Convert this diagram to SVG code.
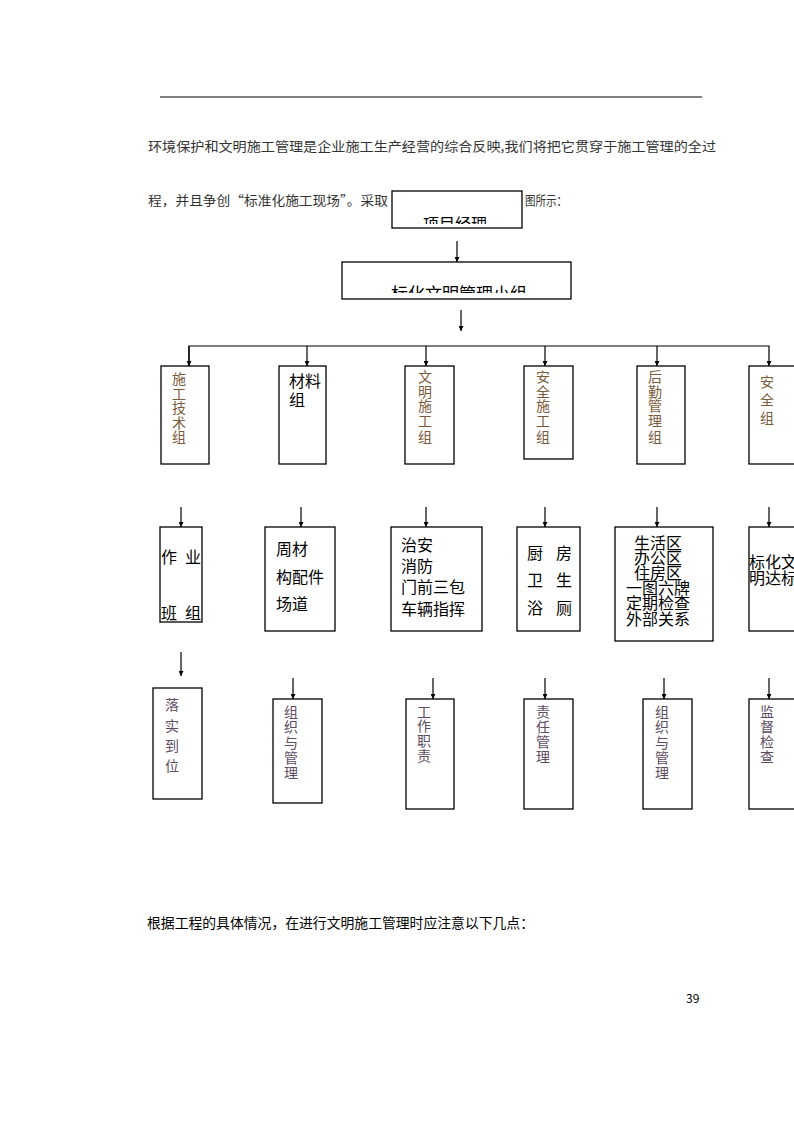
<svg xmlns="http://www.w3.org/2000/svg" width="794" height="1123" viewBox="0 0 794 1123">
<style>
.box{fill:#fff;stroke:#000;stroke-width:1.3}
.ln{fill:none;stroke:#000;stroke-width:1.2}
.t{font-family:"Noto Sans CJK SC","Noto Sans",sans-serif;fill:#000}
.p{font-family:"Noto Sans CJK SC","Noto Sans",sans-serif;fill:#333;font-size:13px}
.v1{font-family:"Noto Sans CJK SC",sans-serif;fill:#7a5a3a;font-size:14px;text-anchor:middle}
.v3{font-family:"Noto Sans CJK SC",sans-serif;fill:#5e4c62;font-size:14px;text-anchor:middle}
.n{font-family:"Noto Sans CJK SC",sans-serif;fill:#000;font-size:16px}
</style>
<defs>
<marker id="ah" viewBox="0 0 6 6" refX="6" refY="3" markerWidth="5" markerHeight="5" orient="auto" markerUnits="userSpaceOnUse"><path d="M0,0 L6,3 L0,6 z" fill="#000"/></marker>
<clipPath id="c1"><rect x="392" y="191" width="130" height="33"/></clipPath>
<clipPath id="c2"><rect x="342" y="262" width="229" height="31"/></clipPath>
</defs>
<rect width="794" height="1123" fill="#fff"/>
<line x1="160" y1="97" x2="702" y2="97" stroke="#000" stroke-width="1"/>
<text class="p" x="148" y="151" textLength="568" lengthAdjust="spacingAndGlyphs">环境保护和文明施工管理是企业施工生产经营的综合反映,我们将把它贯穿于施工管理的全过</text>
<text class="p" x="148" y="205" textLength="240" lengthAdjust="spacingAndGlyphs">程，并且争创“标准化施工现场”。采取</text>
<text class="p" x="525" y="205" textLength="42" lengthAdjust="spacingAndGlyphs">图所示：</text>

<g id="connectors">
<line class="ln" x1="457" y1="241" x2="457" y2="262" marker-end="url(#ah)"/>
<line class="ln" x1="461" y1="310" x2="461" y2="331" marker-end="url(#ah)"/>
<polyline class="ln" points="189,366 189,346 769,346 769,366" marker-end="url(#ah)"/>
<line class="ln" x1="189" y1="346" x2="189" y2="366" marker-end="url(#ah)"/>
<line class="ln" x1="307" y1="346" x2="307" y2="366" marker-end="url(#ah)"/>
<line class="ln" x1="426" y1="346" x2="426" y2="366" marker-end="url(#ah)"/>
<line class="ln" x1="545" y1="346" x2="545" y2="366" marker-end="url(#ah)"/>
<line class="ln" x1="657" y1="346" x2="657" y2="366" marker-end="url(#ah)"/>
<line class="ln" x1="181" y1="507" x2="181" y2="527" marker-end="url(#ah)"/>
<line class="ln" x1="301" y1="507" x2="301" y2="527" marker-end="url(#ah)"/>
<line class="ln" x1="426" y1="507" x2="426" y2="527" marker-end="url(#ah)"/>
<line class="ln" x1="545" y1="507" x2="545" y2="527" marker-end="url(#ah)"/>
<line class="ln" x1="657" y1="507" x2="657" y2="527" marker-end="url(#ah)"/>
<line class="ln" x1="769" y1="507" x2="769" y2="527" marker-end="url(#ah)"/>
<line class="ln" x1="181" y1="652" x2="181" y2="676" marker-end="url(#ah)"/>
<line class="ln" x1="293" y1="678" x2="293" y2="699" marker-end="url(#ah)"/>
<line class="ln" x1="433" y1="678" x2="433" y2="699" marker-end="url(#ah)"/>
<line class="ln" x1="545" y1="678" x2="545" y2="699" marker-end="url(#ah)"/>
<line class="ln" x1="664" y1="678" x2="664" y2="699" marker-end="url(#ah)"/>
<line class="ln" x1="769" y1="678" x2="769" y2="699" marker-end="url(#ah)"/>
</g>

<g id="n-pm"><rect class="box" x="392" y="191" width="130" height="37"/>
<text class="t" x="455" y="230" font-size="16" text-anchor="middle" clip-path="url(#c1)">项目经理</text></g>
<g id="n-team"><rect class="box" x="342" y="262" width="229" height="37"/>
<text class="t" x="459" y="300" font-size="17" text-anchor="middle" clip-path="url(#c2)">标化文明管理小组</text></g>

<g id="n-a1"><rect class="box" x="161" y="366" width="48" height="98"/>
<text class="v1"><tspan x="179" y="384">施</tspan><tspan x="179" y="399">工</tspan><tspan x="179" y="413">技</tspan><tspan x="179" y="428">术</tspan><tspan x="179" y="442">组</tspan></text></g>
<g id="n-a2"><rect class="box" x="279" y="366" width="47" height="98"/>
<text class="n" x="289" y="387" font-size="15">材料</text><text class="n" x="289" y="406" font-size="15">组</text></g>
<g id="n-a3"><rect class="box" x="405" y="366" width="49" height="98"/>
<text class="v1"><tspan x="425" y="382">文</tspan><tspan x="425" y="397">明</tspan><tspan x="425" y="411">施</tspan><tspan x="425" y="426">工</tspan><tspan x="425" y="442">组</tspan></text></g>
<g id="n-a4"><rect class="box" x="524" y="366" width="49" height="93"/>
<text class="v1"><tspan x="543" y="382">安</tspan><tspan x="543" y="397">全</tspan><tspan x="543" y="411">施</tspan><tspan x="543" y="426">工</tspan><tspan x="543" y="442">组</tspan></text></g>
<g id="n-a5"><rect class="box" x="637" y="366" width="48" height="98"/>
<text class="v1"><tspan x="655" y="382">后</tspan><tspan x="655" y="397">勤</tspan><tspan x="655" y="411">管</tspan><tspan x="655" y="426">理</tspan><tspan x="655" y="442">组</tspan></text></g>
<g id="n-a6"><rect class="box" x="749" y="366" width="47" height="98"/>
<text class="v1"><tspan x="767" y="387">安</tspan><tspan x="767" y="405">全</tspan><tspan x="767" y="423">组</tspan></text></g>

<g id="n-b1"><rect class="box" x="160" y="527" width="42" height="95"/>
<text class="n" x="161" y="563">作</text><text class="n" x="185" y="563">业</text>
<text class="n" x="161" y="619">班</text><text class="n" x="185" y="619">组</text></g>
<g id="n-b2"><rect class="box" x="265" y="527" width="70" height="104"/>
<text class="n" x="276" y="555">周材</text><text class="n" x="276" y="583">构配件</text><text class="n" x="276" y="610">场道</text></g>
<g id="n-b3"><rect class="box" x="391" y="527" width="91" height="104"/>
<text class="n" x="401" y="551">治安</text><text class="n" x="401" y="572">消防</text><text class="n" x="401" y="593">门前三包</text><text class="n" x="401" y="615">车辆指挥</text></g>
<g id="n-b4"><rect class="box" x="517" y="527" width="63" height="104"/>
<text class="n" x="527" y="559">厨</text><text class="n" x="556" y="559">房</text>
<text class="n" x="527" y="586">卫</text><text class="n" x="556" y="586">生</text>
<text class="n" x="527" y="614">浴</text><text class="n" x="556" y="614">厕</text></g>
<g id="n-b5"><rect class="box" x="615" y="527" width="98" height="114"/>
<text class="n" text-anchor="middle"><tspan x="658" y="549">生活区</tspan><tspan x="658" y="564">办公区</tspan><tspan x="658" y="579">住房区</tspan><tspan x="658" y="594">一图六牌</tspan><tspan x="658" y="609">定期检查</tspan><tspan x="658" y="625">外部关系</tspan></text></g>
<g id="n-b6"><rect class="box" x="749" y="527" width="47" height="104"/>
<text class="n" x="749" y="568">标化文</text><text class="n" x="749" y="584">明达标</text></g>

<g id="n-c1"><rect class="box" x="153" y="688" width="49" height="111"/>
<text class="v3"><tspan x="172" y="710">落</tspan><tspan x="172" y="731">实</tspan><tspan x="172" y="751">到</tspan><tspan x="172" y="771">位</tspan></text></g>
<g id="n-c2"><rect class="box" x="273" y="699" width="49" height="104"/>
<text class="v3"><tspan x="291" y="717">组</tspan><tspan x="291" y="732">织</tspan><tspan x="291" y="748">与</tspan><tspan x="291" y="763">管</tspan><tspan x="291" y="778">理</tspan></text></g>
<g id="n-c3"><rect class="box" x="406" y="699" width="48" height="110"/>
<text class="v3"><tspan x="424" y="717">工</tspan><tspan x="424" y="731">作</tspan><tspan x="424" y="746">职</tspan><tspan x="424" y="761">责</tspan></text></g>
<g id="n-c4"><rect class="box" x="524" y="699" width="49" height="110"/>
<text class="v3"><tspan x="543" y="717">责</tspan><tspan x="543" y="732">任</tspan><tspan x="543" y="747">管</tspan><tspan x="543" y="762">理</tspan></text></g>
<g id="n-c5"><rect class="box" x="643" y="699" width="49" height="110"/>
<text class="v3"><tspan x="662" y="717">组</tspan><tspan x="662" y="732">织</tspan><tspan x="662" y="748">与</tspan><tspan x="662" y="763">管</tspan><tspan x="662" y="778">理</tspan></text></g>
<g id="n-c6"><rect class="box" x="749" y="699" width="47" height="110"/>
<text class="v3"><tspan x="767" y="717">监</tspan><tspan x="767" y="732">督</tspan><tspan x="767" y="747">检</tspan><tspan x="767" y="762">查</tspan></text></g>

<text class="t" x="147" y="928" font-size="14" textLength="387" lengthAdjust="spacingAndGlyphs">根据工程的具体情况，在进行文明施工管理时应注意以下几点：</text>
<text class="t" x="686" y="1003" font-size="12" font-family="Liberation Sans, sans-serif">39</text>
</svg>
